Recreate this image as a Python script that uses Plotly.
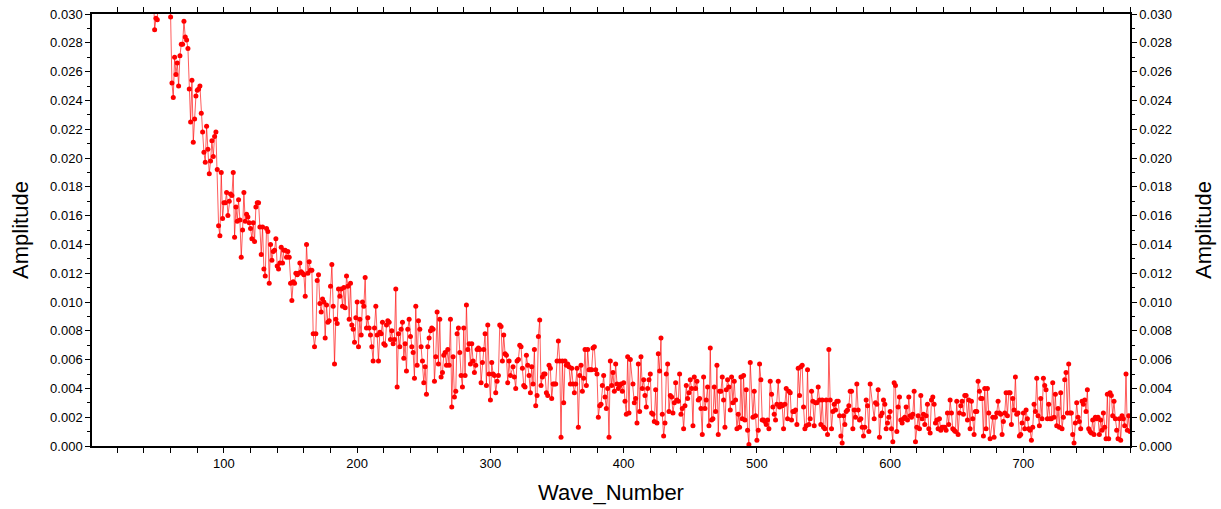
import plotly.graph_objects as go

# Amplitude values, in units of 1e-3, one per wave number.
# Each segment is one stretch; its first wave number is in segment_start.
seg_a = [38.0,35.2,36.8,33.1,34.5,32.2,33.9,31.8,28.9,29.7,29.6,31.8,33.5,31.0,34.2,32.6,31.5,33.0,31.2,32.0,
         29.8,25.2,24.2,27.0,25.8,26.6,25.0,27.1,27.9,27.9,29.5,28.4,28.2,27.6,24.8,22.5,25.4,21.1,22.7,24.3,
         24.7,24.8,25.0,23.1,21.8,20.4,19.7,22.2,20.6,18.9,19.8,21.2,20.1,21.5,21.8,19.2,15.3,14.6,19.0,15.8,
         16.9,16.9,17.6,16.0,17.0,17.5,17.4,19.0,14.5,16.6,15.6,17.1,15.7,13.1,15.0,17.6,15.6,16.1,15.9,15.5,
         15.1,14.4,15.5,14.2,16.6,16.9,16.9,15.2,13.3,15.2,12.3,11.8,15.1,14.9]
seg_b = [11.3,14.0,12.9,13.5,13.6,14.4,12.5,12.3,12.7,13.8,12.7,13.6,13.6,13.1,13.5,13.1,11.3,10.1,11.4,11.3,
         12.0,11.9,12.0,12.7,12.1,12.0,11.9,10.4,14.0,12.0,12.8,12.2,12.2,7.8,6.9,7.8,11.5,11.9,9.9,9.3,
         10.2,10.0,7.5,9.8,8.6,8.7,11.1,12.6,9.7,5.7,8.8,8.5,10.9,10.4,10.9,9.7,11.0,9.6,11.8,11.1,
         8.8,11.3,8.4,8.1,7.2,8.9,10.0,6.9,8.8,7.7,10.0,9.7,11.7,8.2,8.9,8.2,7.7,6.9,5.9,8.2,
         9.7,7.7,5.9,7.9,7.8,8.6,7.1,7.0,8.4,8.7]
seg_c = [8.6,7.4,8.0,7.1,7.4,10.9,4.1,7.8,6.9,8.1,8.6,6.1,7.1,5.2,8.1,8.8,7.6,6.9,6.5,4.7,
         9.7,5.6,8.7,8.1,6.9,5.9,4.4,5.5,3.6,6.9,7.5,8.0,8.2,8.1,4.5,6.2,9.3,5.7,8.8,4.8,
         5.1,6.3,6.5,5.6,6.7,5.6,8.8,2.7,6.2,3.4,3.8,7.8,8.2,6.5,4.9,4.1,8.2,4.9,9.8,6.7,
         7.1,5.7,7.1,5.9,5.1,5.6,6.7,6.8,6.7,4.4,5.8,6.7,7.8,4.2,8.4,5.0,3.2,5.8,5.0,4.9,
         3.7,4.5,4.9,8.4,8.3,5.9,7.7,6.4,6.3,4.4,5.9,4.9]
seg_d = [5.5,4.8,4.0,5.9,6.0,7.0,6.9,5.4,4.2,4.1,6.3,5.6,4.9,3.7,5.5,4.3,6.7,2.8,3.5,7.6,
         8.75,4.2,4.8,5.0,5.0,3.7,3.5,5.6,5.4,3.3,4.3,4.3,4.3,5.9,7.3,5.9,0.6,5.9,3.0,5.9,
         5.6,5.7,5.5,4.3,5.4,4.3,3.7,4.3,5.4,1.3,4.9,5.6,3.8,4.7,6.7,4.2,6.7,5.3,5.3,5.3,
         6.8,6.9,5.3,5.0,2.0,2.8,2.9,4.2,4.9,3.4,2.6,4.0,0.6,5.9,4.2,5.1,3.8,5.7,4.3,4.0,
         4.2,4.3,3.8,4.4,3.1,2.2,6.2,2.3,6.0]
seg_e = [4.3,3.0,3.3,1.6,5.7,2.4,6.2,4.0,4.6,3.5,2.7,4.0,4.6,5.0,2.3,2.2,1.7,3.9,1.6,6.4,
         5.2,7.5,2.2,0.7,1.6,5.0,5.7,2.4,3.5,3.4,2.3,3.0,4.4,3.2,3.1,5.0,2.2,2.6,1.2,2.8,
         4.2,3.3,3.7,4.6,4.0,1.4,4.8,4.0,4.5,3.2,3.3,2.6,0.8,4.8,2.6,3.2,4.1,1.4,6.8,1.8,
         1.9,4.1,2.4,5.6,0.8,3.8,3.8,4.8,3.2,1.3,3.9,4.6,4.1,2.5,4.8,3.0,4.5,3.2,1.2,2.2,
         1.3,4.8,1.9,4.9,1.8,3.9,1.1,0.1,5.8]
seg_f = [2.0,3.8,2.1,0.4,1.1,5.7,4.6,1.8,1.8,1.7,1.5,1.8,1.2,4.5,3.6,2.7,2.2,1.8,2.9,4.5,
         2.7,2.9,2.8,1.2,2.9,4.0,1.9,3.8,3.7,1.8,2.4,2.4,2.5,1.5,5.4,3.5,5.5,5.6,2.7,1.2,
         1.4,5.3,1.5,1.9,3.8,3.1,1.4,3.0,3.0,4.1,3.2,1.5,3.2,1.3,1.2,3.2,0.8,6.7,3.2,1.2,
         2.4,2.9,2.5,3.1,3.1,2.1,0.7,0.2,2.1,1.5,2.4,2.5,2.8,3.8,3.8,1.2,2.5,2.0,4.3,2.5,
         1.8,1.9,1.3,0.7,1.3,3.2,2.8,1.0,4.3]
seg_g = [1.9,3.0,2.9,3.9,0.6,2.1,2.3,3.2,2.9,1.2,1.6,2.0,2.4,1.2,0.3,4.4,4.2,1.0,2.7,3.4,
         1.8,1.6,1.9,2.0,2.7,1.8,3.4,2.1,2.0,2.2,3.8,0.3,1.3,2.1,1.2,3.5,1.9,2.2,1.5,2.1,
         2.9,1.2,0.9,3.2,3.4,2.9,1.6,1.8,1.2,1.9,1.1,1.3,1.3,1.3,1.1,2.3,1.5,3.2,2.3,1.2,
         1.1,1.0,3.1,0.8,2.3,2.8,3.1,2.2,3.5,3.5,1.8,3.2,1.2,3.1,1.9,0.8,2.4,2.4,4.5,3.8,
         3.3,3.3,0.7,4.0,1.2,4.0,2.3,0.5]
seg_h = [2.0,0.6,2.0,2.3,3.1,2.3,2.2,0.8,1.7,2.3,3.7,2.1,3.7,3.7,1.5,3.3,2.5,4.8,2.2,2.3,
         0.7,0.8,1.6,2.3,1.2,2.5,1.9,1.2,1.1,0.4,1.3,2.9,2.4,4.7,2.1,1.4,3.3,1.9,4.7,4.2,
         3.9,1.9,2.9,1.9,1.9,4.4,2.0,3.6,1.4,2.6,1.3,3.7,1.2,2.0,4.6,5.1,2.3,5.7,2.3,2.3,
         0.8,0.2,1.6,3.0,2.0,1.7,1.2,3.1,2.9,3.2,2.4,3.9,1.2,1.0,0.9,1.8,0.8,2.0,1.9,2.0,
         0.8,1.8,1.1,2.3,1.3,0.5,3.6,0.5,3.7,3.5,2.1,3.1,1.9,1.1,0.5,1.9,0.4,2.1,1.9,1.4,
         5.0,1.1,2.1,1.0]

segments = [seg_a, seg_b, seg_c, seg_d, seg_e, seg_f, seg_g, seg_h]
segment_start = [40, 134, 224, 317, 407, 497, 588, 677]

wave_number = []
amplitude = []
for start, seg in zip(segment_start, segments):
    wave_number += list(range(start, start + len(seg)))
    amplitude += [v / 1000.0 for v in seg]

x_range = [1, 780]
y_range = [0, 0.030]
y_tick_values = [0.000, 0.002, 0.004, 0.006, 0.008, 0.010, 0.012, 0.014,
                 0.016, 0.018, 0.020, 0.022, 0.024, 0.026, 0.028, 0.030]
y_tick_text = ["0.000", "0.002", "0.004", "0.006", "0.008", "0.010", "0.012", "0.014",
               "0.016", "0.018", "0.020", "0.022", "0.024", "0.026", "0.028", "0.030"]
x_tick_values = [100, 200, 300, 400, 500, 600, 700]
x_tick_text = ["100", "200", "300", "400", "500", "600", "700"]

FONT = "Liberation Sans, Arial, Helvetica, sans-serif"

fig = go.Figure()
fig.add_trace(go.Scatter(
    x=wave_number, y=amplitude, mode="lines+markers",
    line=dict(color="rgba(255,0,0,0.8)", width=0.8),
    marker=dict(color="#ff0000", size=5, line=dict(width=0)),
    showlegend=False, hoverinfo="skip",
))
# transparent copy that carries the right-hand axis
fig.add_trace(go.Scatter(
    x=wave_number, y=amplitude, yaxis="y2", mode="lines",
    line=dict(color="rgba(0,0,0,0)", width=0),
    showlegend=False, hoverinfo="skip",
))

common_y = dict(
    range=y_range, tickmode="array", tickvals=y_tick_values, ticktext=y_tick_text,
    ticks="outside", ticklen=5, tickwidth=1.2, tickcolor="black",
    minor=dict(ticks="outside", dtick=0.001, tick0=0, ticklen=3, tickwidth=1, tickcolor="black", showgrid=False),
    showline=True, linecolor="black", linewidth=1.5,
    showgrid=False, zeroline=False, automargin=False,
    tickfont=dict(family=FONT, size=13, color="black"),
)

fig.update_layout(
    width=1221, height=509,
    margin=dict(l=92, r=91, t=14, b=63, pad=0),
    paper_bgcolor="white", plot_bgcolor="white",
    font=dict(family=FONT, color="black"),
    xaxis=dict(
        range=x_range, tickmode="array", tickvals=x_tick_values, ticktext=x_tick_text,
        ticks="outside", ticklen=5, tickwidth=1.2, tickcolor="black",
        minor=dict(ticks="outside", dtick=20, tick0=0, ticklen=3, tickwidth=1, tickcolor="black", showgrid=False),
        showline=True, linecolor="black", linewidth=1.5, mirror="allticks",
        showgrid=False, zeroline=False, automargin=False,
        tickfont=dict(family=FONT, size=13, color="black"),
        title=dict(text="Wave_Number", font=dict(family=FONT, size=22, color="black"), standoff=14),
    ),
    yaxis=dict(
        **common_y,
        title=dict(text="Amplitude", font=dict(family=FONT, size=22, color="black"), standoff=15),
    ),
    yaxis2=dict(
        **common_y,
        overlaying="y", side="right",
        title=dict(text="Amplitude", font=dict(family=FONT, size=22, color="black"), standoff=25),
    ),
)

fig.write_html("out.html")
